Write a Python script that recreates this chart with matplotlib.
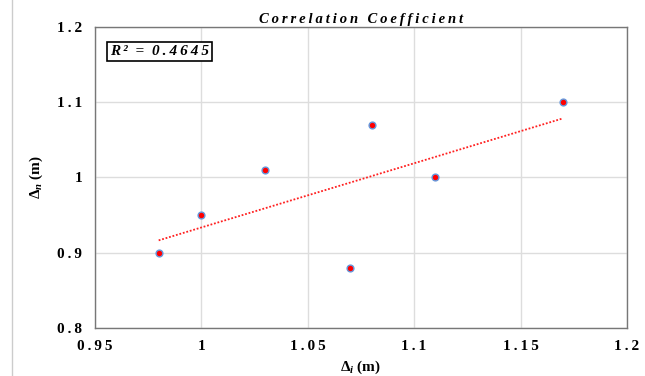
import matplotlib
matplotlib.use("Agg")
import matplotlib.pyplot as plt
import numpy as np

x_vals = [0.98, 1.00, 1.03, 1.07, 1.08, 1.11, 1.17]
y_vals = [0.90, 0.95, 1.01, 0.88, 1.07, 1.00, 1.10]
x_ticks = [0.95, 1.0, 1.05, 1.1, 1.15, 1.2]
x_tick_labels = ["0.95", "1", "1.05", "1.1", "1.15", "1.2"]
y_ticks = [0.8, 0.9, 1.0, 1.1, 1.2]
y_tick_labels = ["0.8", "0.9", "1", "1.1", "1.2"]
r2_label = "R² = 0.4645"
title_text = "Correlation Coefficient"

SP = "\u2009"
def spaced(s):
    return SP.join(list(s))

plt.rcParams['font.family'] = ['Liberation Serif', 'DejaVu Serif']
plt.rcParams['mathtext.fontset'] = 'custom'
plt.rcParams['mathtext.it'] = 'Liberation Serif:italic:bold'
plt.rcParams['mathtext.rm'] = 'Liberation Serif:bold'
plt.rcParams['mathtext.bf'] = 'Liberation Serif:bold'

fig = plt.figure(figsize=(6.45, 3.76), dpi=100)
ax = fig.add_axes([0.147, 0.128, 0.825, 0.8])

ax.set_xlim(0.95, 1.2)
ax.set_ylim(0.8, 1.2)
ax.set_xticks(x_ticks)
ax.set_xticklabels([spaced(t) for t in x_tick_labels], fontweight='bold', fontsize=11)
ax.set_yticks(y_ticks)
ax.set_yticklabels([spaced(t) for t in y_tick_labels], fontweight='bold', fontsize=11)
ax.tick_params(length=0, pad=9)
ax.grid(True, color='#dddddd', linewidth=1)
ax.set_axisbelow(True)
for s in ax.spines.values():
    s.set_color('#777777')
    s.set_linewidth(1)

# trendline
xa = np.array(x_vals); ya = np.array(y_vals)
m, b = np.polyfit(xa, ya, 1)
xl = np.array([xa.min(), xa.max()])
ax.plot(xl, m * xl + b, linestyle=(0, (1, 1)), color='#ff2020', linewidth=1.3)

ax.scatter(x_vals, y_vals, s=24, c='red', edgecolors='#6699dd', linewidths=1.0, zorder=3)

ax.set_title(spaced(title_text), fontsize=10.5, fontweight='bold', style='italic', pad=3)
ax.set_xlabel(r"$\mathit{Δ_i}$ (m)", fontsize=11, fontweight='bold', labelpad=4)
ax.set_ylabel(r"$\mathit{Δ_n}$ (m)", fontsize=11, fontweight='bold', labelpad=9)

ax.text(0.957, 1.163, spaced(r2_label).replace(SP + " " + SP, "  "), fontsize=11, fontweight='bold', style='italic',
        bbox=dict(boxstyle='square,pad=0.2', facecolor='white', edgecolor='black', linewidth=1.2))

fig.add_artist(plt.Line2D([0.018, 0.018], [0.0, 1.0], color='#cccccc', linewidth=1))

fig.savefig("out.png", dpi=100)
